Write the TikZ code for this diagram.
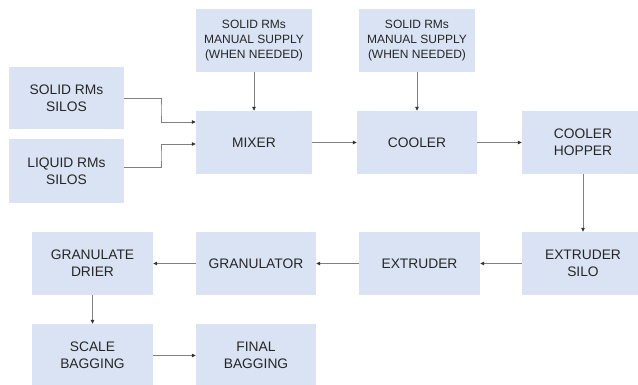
\documentclass[tikz,border=0pt]{standalone}
\usepackage{fontspec}
\setmainfont{Liberation Sans}
\usetikzlibrary{arrows.meta}
\definecolor{boxfill}{HTML}{DAE3F3}
\definecolor{linec}{HTML}{808080}
\definecolor{tipc}{HTML}{333333}
\definecolor{txt}{HTML}{262626}
\begin{document}
\begin{tikzpicture}[x=1pt,y=-1pt,
  box/.style={fill=boxfill,draw=none,inner sep=0pt,align=center,text=txt,
    font=\fontsize{13.8}{17}\selectfont},
  smallbox/.style={box,font=\fontsize{12}{14.7}\selectfont},
  flow/.style={draw=linec,line width=0.8pt,-{Triangle[length=4pt,width=3.5pt,color=tipc,fill=tipc]}}]
\useasboundingbox (0,0) rectangle (638,385);
\node[smallbox,minimum width=116pt,minimum height=63pt] (ms1) at (254,40.5) {SOLID RMs\\MANUAL SUPPLY\\(WHEN NEEDED)};
\node[smallbox,minimum width=116pt,minimum height=63pt] (ms2) at (417,40.5) {SOLID RMs\\MANUAL SUPPLY\\(WHEN NEEDED)};
\node[box,minimum width=115pt,minimum height=62pt] (ss) at (66.5,98) {SOLID RMs\\SILOS};
\node[box,minimum width=115pt,minimum height=64pt] (ls) at (66.5,171) {LIQUID RMs\\SILOS};
\node[box,minimum width=116pt,minimum height=63pt] (mixer) at (254,142.5) {MIXER};
\node[box,minimum width=120pt,minimum height=63pt] (cooler) at (417,142.5) {COOLER};
\node[box,minimum width=122pt,minimum height=63pt] (hopper) at (583,142.5) {COOLER\\HOPPER};
\node[box,minimum width=122pt,minimum height=63pt] (exsilo) at (583,263.5) {EXTRUDER\\SILO};
\node[box,minimum width=121pt,minimum height=63pt] (extruder) at (419.5,263.5) {EXTRUDER};
\node[box,minimum width=120pt,minimum height=63pt] (granulator) at (256,263.5) {GRANULATOR};
\node[box,minimum width=121pt,minimum height=63pt] (drier) at (92.5,263.5) {GRANULATE\\DRIER};
\node[box,minimum width=121pt,minimum height=63pt] (scale) at (92.5,355.5) {SCALE\\BAGGING};
\node[box,minimum width=120pt,minimum height=63pt] (final) at (256,355.5) {FINAL\\BAGGING};
\coordinate (ssout) at (ss.east |- 0,98);
\coordinate (ssin) at (mixer.west |- 0,122);
\coordinate (lsout) at (ls.east |- 0,167);
\coordinate (lsin) at (mixer.west |- 0,144);
\draw[flow] (ssout) -| (161,110) |- (ssin);
\draw[flow] (lsout) -| (161,155) |- (lsin);
\draw[flow] (ms1) -- (mixer);
\draw[flow] (ms2) -- (cooler);
\draw[flow] (mixer) -- (cooler);
\draw[flow] (cooler) -- (hopper);
\draw[flow] (hopper) -- (exsilo);
\draw[flow] (exsilo) -- (extruder);
\draw[flow] (extruder) -- (granulator);
\draw[flow] (granulator) -- (drier);
\draw[flow] (drier) -- (scale);
\draw[flow] (scale) -- (final);
\end{tikzpicture}
\end{document}
